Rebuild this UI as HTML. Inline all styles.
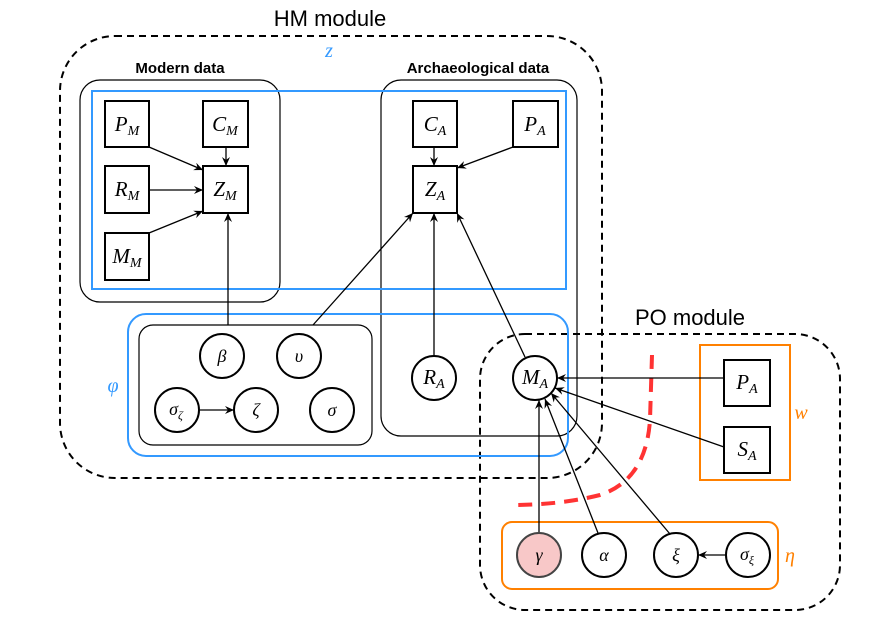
<!DOCTYPE html>
<html><head><style>body{margin:0;background:#fff}svg{display:block}
text{font-family:"Liberation Serif",serif;font-style:italic}
.s{font-family:"Liberation Sans",sans-serif;font-style:normal}</style></head><body>
<svg width="872" height="617" viewBox="0 0 872 617" xmlns="http://www.w3.org/2000/svg">
<defs><marker id="a" markerWidth="10" markerHeight="10" refX="9" refY="5" orient="auto" markerUnits="userSpaceOnUse"><path d="M0,1 L9,5 L0,9 L3,5z" fill="#000"/></marker></defs>
<text x="330" y="26" class="s" font-size="22" text-anchor="middle">HM module</text>
<text x="690" y="325" class="s" font-size="22" text-anchor="middle">PO module</text>
<rect x="60" y="36" width="542" height="442" rx="55" fill="none" stroke="#000" stroke-width="2" stroke-dasharray="7,5"/>
<rect x="480" y="334" width="360" height="276" rx="45" fill="none" stroke="#000" stroke-width="2" stroke-dasharray="7,5"/>
<text x="180" y="73" class="s" font-size="15" font-weight="bold" text-anchor="middle">Modern data</text>
<text x="478" y="73" class="s" font-size="15" font-weight="bold" text-anchor="middle">Archaeological data</text>
<text x="329" y="57" font-size="20" fill="#3399ff" text-anchor="middle">z</text>
<rect x="80" y="80" width="200" height="222" rx="20" fill="none" stroke="#000" stroke-width="1.2"/>
<rect x="381" y="80" width="196" height="356" rx="20" fill="none" stroke="#000" stroke-width="1.2"/>
<rect x="92" y="91" width="474" height="198" fill="none" stroke="#3399ff" stroke-width="2"/>
<rect x="128" y="314" width="440" height="142" rx="18" fill="none" stroke="#3399ff" stroke-width="2"/>
<text x="113" y="392" font-size="20" fill="#3399ff" text-anchor="middle">φ</text>
<rect x="139" y="325" width="233" height="120" rx="14" fill="none" stroke="#000" stroke-width="1.2"/>
<rect x="700" y="345" width="90" height="135" fill="none" stroke="#ff8000" stroke-width="2"/>
<text x="801" y="419" font-size="20" fill="#ff8000" text-anchor="middle">w</text>
<rect x="502" y="522" width="276" height="67" rx="10" fill="none" stroke="#ff8000" stroke-width="2"/>
<text x="790" y="562" font-size="20" fill="#ff8000" text-anchor="middle">η</text>
<path d="M652,355 L650,420 Q646,480 600,495 Q560,505 512,505" fill="none" stroke="#ff3333" stroke-width="4" stroke-dasharray="14,9"/>
<g stroke="#000" stroke-width="1.3" fill="none" marker-end="url(#a)">
<line x1="149" y1="147" x2="203" y2="170"/>
<line x1="226" y1="147" x2="226" y2="166"/>
<line x1="149" y1="190" x2="203" y2="190"/>
<line x1="149" y1="233" x2="203" y2="211"/>
<line x1="228" y1="325" x2="228" y2="213"/>
<line x1="313" y1="325" x2="413" y2="213"/>
<line x1="434" y1="356" x2="434" y2="213"/>
<line x1="525" y1="357" x2="457" y2="213"/>
<line x1="434" y1="147" x2="434" y2="166"/>
<line x1="513" y1="147" x2="457" y2="168"/>
<line x1="724" y1="378" x2="557" y2="378"/>
<line x1="724" y1="447" x2="555" y2="388"/>
<line x1="539" y1="533" x2="539" y2="400"/>
<line x1="598" y1="533" x2="545" y2="399"/>
<line x1="670" y1="534" x2="551" y2="393"/>
<line x1="726" y1="555" x2="698" y2="555"/>
<line x1="199" y1="410" x2="234" y2="410"/>
</g>
<g fill="#fff" stroke="#000" stroke-width="2">
<rect x="105" y="101" width="44" height="46"/><rect x="203" y="101" width="45" height="46"/>
<rect x="105" y="166" width="44" height="47"/><rect x="203" y="166" width="45" height="47"/>
<rect x="105" y="233" width="44" height="47"/>
<rect x="413" y="101" width="44" height="46"/><rect x="513" y="101" width="45" height="46"/>
<rect x="413" y="166" width="44" height="47"/>
<rect x="724" y="360" width="46" height="46"/><rect x="724" y="427" width="46" height="46"/>
<circle cx="222" cy="356" r="22"/><circle cx="299" cy="356" r="22"/>
<circle cx="177" cy="410" r="22"/><circle cx="256" cy="410" r="22"/><circle cx="332" cy="410" r="22"/>
<circle cx="434" cy="378" r="22"/><circle cx="535" cy="378" r="22"/>
<circle cx="539" cy="555" r="22" fill="#f8c8c8" stroke="#444"/><circle cx="604" cy="555" r="22"/>
<circle cx="676" cy="555" r="22"/><circle cx="748" cy="555" r="22"/>
</g>
<g font-size="21" text-anchor="middle">
<text x="127" y="131">P<tspan font-size="14" dy="4">M</tspan></text>
<text x="225" y="131">C<tspan font-size="14" dy="4">M</tspan></text>
<text x="127" y="196">R<tspan font-size="14" dy="4">M</tspan></text>
<text x="225" y="196">Z<tspan font-size="14" dy="4">M</tspan></text>
<text x="127" y="263">M<tspan font-size="14" dy="4">M</tspan></text>
<text x="435" y="131">C<tspan font-size="14" dy="4">A</tspan></text>
<text x="535" y="131">P<tspan font-size="14" dy="4">A</tspan></text>
<text x="435" y="196">Z<tspan font-size="14" dy="4">A</tspan></text>
<text x="747" y="389">P<tspan font-size="14" dy="4">A</tspan></text>
<text x="747" y="456">S<tspan font-size="14" dy="4">A</tspan></text>
<text x="434" y="384">R<tspan font-size="14" dy="4">A</tspan></text>
<text x="535" y="384">M<tspan font-size="14" dy="4">A</tspan></text>
<text x="222" y="362" font-size="18">β</text><text x="299" y="362" font-size="18">υ</text>
<text x="176" y="415" font-size="18">σ<tspan font-size="12" dy="4">ζ</tspan></text>
<text x="256" y="416" font-size="18">ζ</text><text x="332" y="416" font-size="18">σ</text>
<text x="539" y="561" font-size="18">γ</text><text x="604" y="561" font-size="18">α</text>
<text x="676" y="561" font-size="18">ξ</text>
<text x="747" y="560" font-size="18">σ<tspan font-size="12" dy="4">ξ</tspan></text>
</g>
</svg>
</body></html>
